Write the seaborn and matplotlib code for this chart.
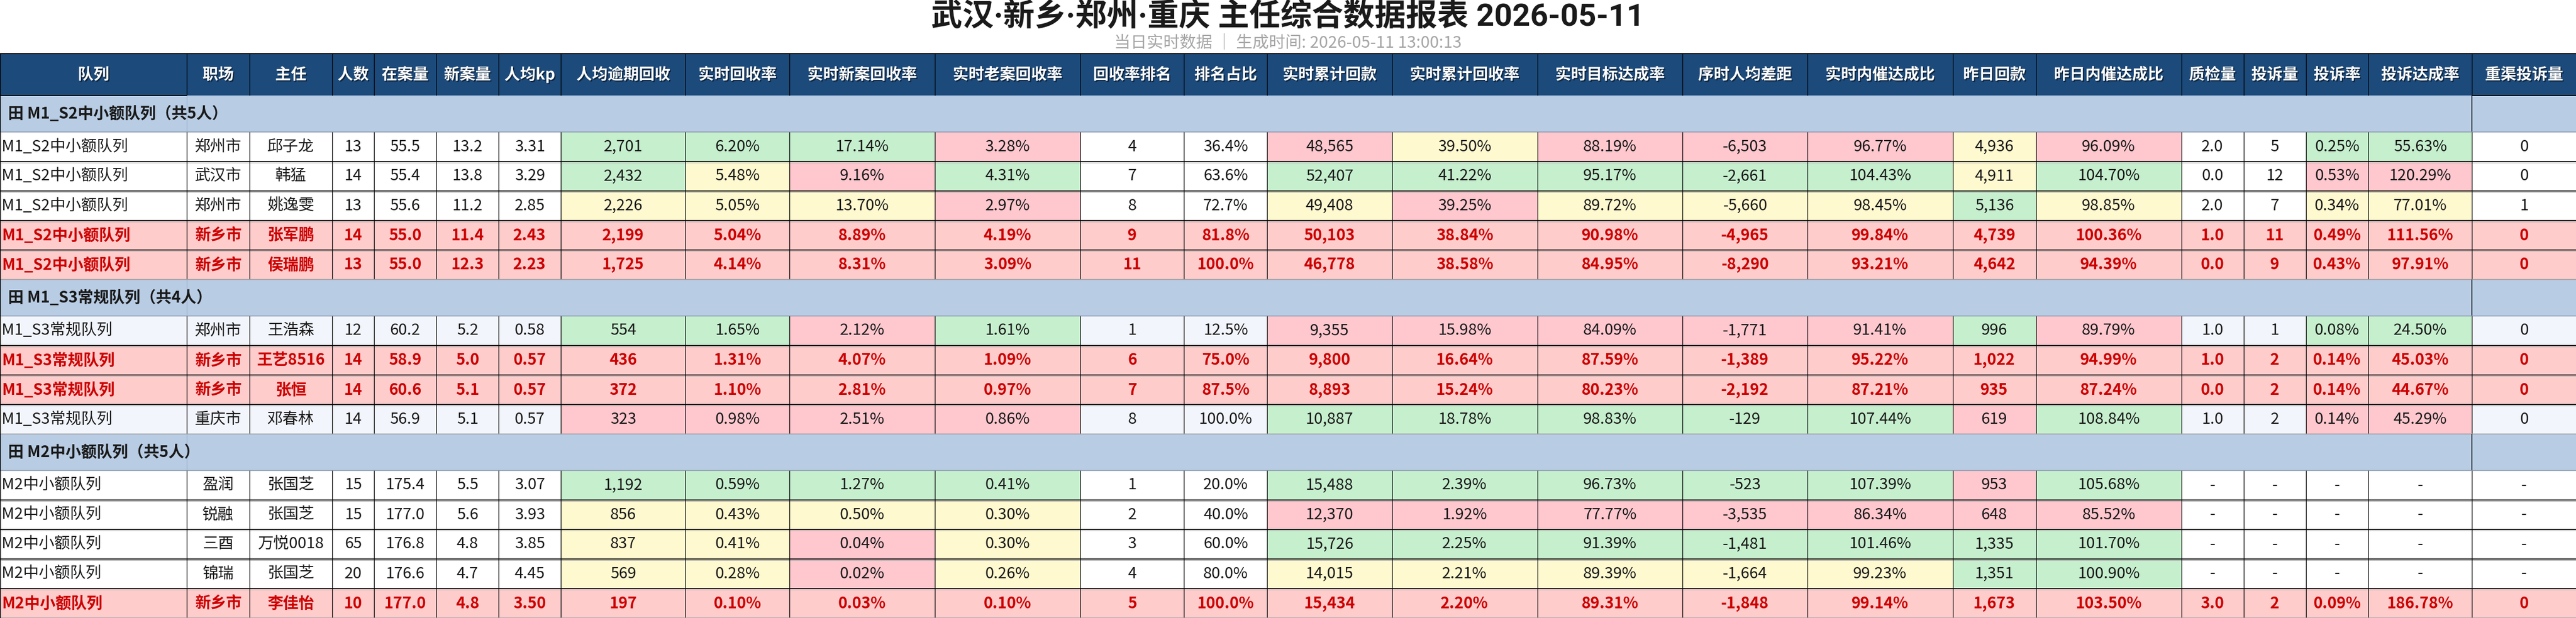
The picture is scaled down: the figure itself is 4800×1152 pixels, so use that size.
import numpy as np
import seaborn as sns
import matplotlib
matplotlib.use("Agg")
import matplotlib.pyplot as plt
from matplotlib.colors import ListedColormap
import matplotlib.patheffects as pe

# ---------------- data ----------------
TITLE = "武汉·新乡·郑州·重庆 主任综合数据报表 2026-05-11"
SUBTITLE = "当日实时数据 ｜ 生成时间: 2026-05-11 13:00:13"

columns = ["队列", "职场", "主任", "人数", "在案量", "新案量", "人均kp", "人均逾期回收",
           "实时回收率", "实时新案回收率", "实时老案回收率", "回收率排名", "排名占比",
           "实时累计回款", "实时累计回收率", "实时目标达成率", "序时人均差距",
           "实时内催达成比", "昨日回款", "昨日内催达成比", "质检量", "投诉量",
           "投诉率", "投诉达成率", "重渠投诉量"]

group_names = ["M1_S2中小额队列", "M1_S3常规队列", "M2中小额队列"]
group_sizes = [5, 4, 5]

site = ["郑州市", "武汉市", "郑州市", "新乡市", "新乡市",
        "郑州市", "新乡市", "新乡市", "重庆市",
        "盈润", "锐融", "三酉", "锦瑞", "新乡市"]
director = ["邱子龙", "韩猛", "姚逸雯", "张军鹏", "侯瑞鹏",
            "王浩森", "王艺8516", "张恒", "邓春林",
            "张国芝", "张国芝", "万悦0018", "张国芝", "李佳怡"]
headcount = [13, 14, 13, 14, 13, 12, 14, 14, 14, 15, 15, 65, 20, 10]
cases = [55.5, 55.4, 55.6, 55.0, 55.0, 60.2, 58.9, 60.6, 56.9, 175.4, 177.0, 176.8, 176.6, 177.0]
new_cases = [13.2, 13.8, 11.2, 11.4, 12.3, 5.2, 5.0, 5.1, 5.1, 5.5, 5.6, 4.8, 4.7, 4.8]
kp = [3.31, 3.29, 2.85, 2.43, 2.23, 0.58, 0.57, 0.57, 0.57, 3.07, 3.93, 3.85, 4.45, 3.50]
overdue_pc = [2701, 2432, 2226, 2199, 1725, 554, 436, 372, 323, 1192, 856, 837, 569, 197]
rate = [6.20, 5.48, 5.05, 5.04, 4.14, 1.65, 1.31, 1.10, 0.98, 0.59, 0.43, 0.41, 0.28, 0.10]
new_rate = [17.14, 9.16, 13.70, 8.89, 8.31, 2.12, 4.07, 2.81, 2.51, 1.27, 0.50, 0.04, 0.02, 0.03]
old_rate = [3.28, 4.31, 2.97, 4.19, 3.09, 1.61, 1.09, 0.97, 0.86, 0.41, 0.30, 0.30, 0.26, 0.10]
rank = [4, 7, 8, 9, 11, 1, 6, 7, 8, 1, 2, 3, 4, 5]
rank_share = [36.4, 63.6, 72.7, 81.8, 100.0, 12.5, 75.0, 87.5, 100.0, 20.0, 40.0, 60.0, 80.0, 100.0]
cum_paid = [48565, 52407, 49408, 50103, 46778, 9355, 9800, 8893, 10887, 15488, 12370, 15726, 14015, 15434]
cum_rate = [39.50, 41.22, 39.25, 38.84, 38.58, 15.98, 16.64, 15.24, 18.78, 2.39, 1.92, 2.25, 2.21, 2.20]
target_rate = [88.19, 95.17, 89.72, 90.98, 84.95, 84.09, 87.59, 80.23, 98.83, 96.73, 77.77, 91.39, 89.39, 89.31]
gap = [-6503, -2661, -5660, -4965, -8290, -1771, -1389, -2192, -129, -523, -3535, -1481, -1664, -1848]
inner_ratio = [96.77, 104.43, 98.45, 99.84, 93.21, 91.41, 95.22, 87.21, 107.44, 107.39, 86.34, 101.46, 99.23, 99.14]
yday_paid = [4936, 4911, 5136, 4739, 4642, 996, 1022, 935, 619, 953, 648, 1335, 1351, 1673]
yday_ratio = [96.09, 104.70, 98.85, 100.36, 94.39, 89.79, 94.99, 87.24, 108.84, 105.68, 85.52, 101.70, 100.90, 103.50]
qc = [2.0, 0.0, 2.0, 1.0, 0.0, 1.0, 1.0, 0.0, 1.0, None, None, None, None, 3.0]
complaints = [5, 12, 7, 11, 9, 1, 2, 2, 2, None, None, None, None, 2]
complaint_rate = [0.25, 0.53, 0.34, 0.49, 0.43, 0.08, 0.14, 0.14, 0.14, None, None, None, None, 0.09]
complaint_attain = [55.63, 120.29, 77.01, 111.56, 97.91, 24.50, 45.03, 44.67, 45.29, None, None, None, None, 186.78]
repeat_complaints = [0, 0, 1, 0, 0, 0, 0, 0, 0, None, None, None, None, 0]
highlight = [0, 0, 0, 1, 1, 0, 1, 1, 0, 0, 0, 0, 0, 1]

# conditional-format flags (G good / Y mid / P poor) for the flagged columns
flag_cols = [7, 8, 9, 10, 13, 14, 15, 16, 17, 18, 19, 22, 23]
cell_flags = ["GGGPPYPPPYPGG", "GYPGGGGGGYGPP", "YYYPYPYYYGYYY", "PPPPPPPPPPPPP", "PPPPPPPPPPPPP",
              "GGPGPPPPPGPGG", "PPPPPPPPPPPPP", "PPPPPPPPPPPPP", "PPPPGGGGGPGPP",
              "GGGGGGGGGPG--", "YYYYPPPPPPP--", "YYPYGGGGGGG--", "YYPYYYYYYGG--", "PPPPPPPPPPPPP"]

# ---------------- style / layout ----------------
sns.set_theme(style="white")
plt.rcParams['font.family'] = ['Noto Sans CJK SC', 'DejaVu Sans']

W, H = 4800, 1152
col_units = [9, 3, 4, 2, 3, 3, 3, 6, 5, 7, 7, 5, 4, 6, 7, 7, 6, 7, 4, 7, 3, 3, 3, 5, 5]
xedges = np.concatenate([[0], np.cumsum(col_units)]) * (W / sum(col_units))
TOP, HEADER_H, GROUP_H, ROW_H = 100, 78, 68, 55

C_HEADER = "#1C4A7B"
C_GROUP = "#B8CCE4"
C_WHITE = "#FFFFFF"
C_TINT = "#F2F5FC"
C_GREEN = "#C6EFCE"
C_YELLOW = "#FFF9CF"
C_PINK = "#FFC7CE"
C_RED_ROW = "#FFCCCC"
C_RED_TXT = "#CC0000"
C_TXT = "#1A1A1A"
palette = [C_HEADER, C_GROUP, C_WHITE, C_TINT, C_GREEN, C_YELLOW, C_PINK, C_RED_ROW]
code = {c: i for i, c in enumerate(palette)}
flag_color = {"G": C_GREEN, "Y": C_YELLOW, "P": C_PINK}

def fmt_int(v): return "-" if v is None else f"{int(v)}"
def fmt_f1(v): return "-" if v is None else f"{v:.1f}"
def fmt_f2(v): return "-" if v is None else f"{v:.2f}"
def fmt_comma(v): return "-" if v is None else f"{int(v):,}"
def fmt_p1(v): return "-" if v is None else f"{v:.1f}%"
def fmt_p2(v): return "-" if v is None else f"{v:.2f}%"

n = len(site)
queue = [g for g, s in zip(group_names, group_sizes) for _ in range(s)]
group_of = [gi for gi, s in enumerate(group_sizes) for _ in range(s)]
table = [
    queue, site, director,
    [fmt_int(v) for v in headcount], [fmt_f1(v) for v in cases], [fmt_f1(v) for v in new_cases],
    [fmt_f2(v) for v in kp], [fmt_comma(v) for v in overdue_pc], [fmt_p2(v) for v in rate],
    [fmt_p2(v) for v in new_rate], [fmt_p2(v) for v in old_rate], [fmt_int(v) for v in rank],
    [fmt_p1(v) for v in rank_share], [fmt_comma(v) for v in cum_paid], [fmt_p2(v) for v in cum_rate],
    [fmt_p2(v) for v in target_rate], [fmt_comma(v) for v in gap], [fmt_p2(v) for v in inner_ratio],
    [fmt_comma(v) for v in yday_paid], [fmt_p2(v) for v in yday_ratio], [fmt_f1(v) for v in qc],
    [fmt_int(v) for v in complaints], [fmt_p2(v) for v in complaint_rate],
    [fmt_p2(v) for v in complaint_attain], [fmt_int(v) for v in repeat_complaints],
]

# build row structure
rows = [("header", None)]
k = 0
for gi, s in enumerate(group_sizes):
    rows.append(("group", gi))
    for _ in range(s):
        rows.append(("data", k))
        k += 1
heights = [HEADER_H if t == "header" else GROUP_H if t == "group" else ROW_H for t, _ in rows]
yedges = TOP + np.concatenate([[0], np.cumsum(heights)])

ncol = len(columns)
codes = np.zeros((len(rows), ncol), dtype=int)
for r, (t, idx) in enumerate(rows):
    if t == "header":
        codes[r, :] = code[C_HEADER]
    elif t == "group":
        codes[r, :] = code[C_GROUP]
    else:
        if highlight[idx]:
            codes[r, :] = code[C_RED_ROW]
        else:
            base = C_TINT if group_of[idx] % 2 == 1 else C_WHITE
            codes[r, :] = code[base]
            for j, f in zip(flag_cols, cell_flags[idx]):
                if f in flag_color:
                    codes[r, j] = code[flag_color[f]]

fig = plt.figure(figsize=(W / 100, H / 100), dpi=100)
ax = fig.add_axes([0, 0, 1, 1])
ax.pcolormesh(xedges, yedges, codes, cmap=ListedColormap(palette), vmin=-0.5,
              vmax=len(palette) - 0.5, shading="flat")
ax.set_xlim(0, W)
ax.set_ylim(H, 0)
ax.axis("off")

FS = 21
px = 0.72  # 1 px in points
shadow = [pe.withSimplePatchShadow(offset=(1.5, -1.5), shadow_rgbFace="#000000", alpha=0.5)]

# title
ax.text(W / 2, 32, TITLE, ha="center", va="center", fontsize=42, fontweight="bold",
        color="#1A1A1A", family=["Roboto", "Noto Sans CJK SC", "DejaVu Sans"])
ax.text(W / 2, 80, SUBTITLE, ha="center", va="center", fontsize=22, color="#A6A6A6")

for r, (t, idx) in enumerate(rows):
    y0, y1 = yedges[r], yedges[r + 1]
    yc = (y0 + y1) / 2
    if t == "header":
        for j, name in enumerate(columns):
            ax.text((xedges[j] + xedges[j + 1]) / 2, yc, name, ha="center", va="center",
                    fontsize=FS, fontweight="bold", color="white", path_effects=shadow)
        ax.vlines(xedges[1:-1], y0, y1, colors="#000000", lw=1.3 * px)
    elif t == "group":
        label = f"田 {group_names[idx]}（共{group_sizes[idx]}人）"
        ax.text(15, yc, label, ha="left", va="center", fontsize=FS, fontweight="bold", color=C_TXT)
        ax.vlines([xedges[1]], y0, y1, colors="#9FB3CE", lw=1.2 * px)
        ax.vlines([xedges[-2]], y0, y1, colors="#000000", lw=1.5 * px)
        ax.hlines(y1, 0, W, colors="#8C9BB0", lw=1.6 * px)
    else:
        red = bool(highlight[idx])
        color = C_RED_TXT if red else C_TXT
        weight = "bold" if red else "normal"
        for j in range(ncol):
            txt = table[j][idx]
            if j == 0:
                ax.text(xedges[0] + 3, yc, txt, ha="left", va="center", fontsize=FS,
                        fontweight=weight, color=color)
            else:
                ax.text((xedges[j] + xedges[j + 1]) / 2, yc, txt, ha="center", va="center",
                        fontsize=FS, fontweight=weight, color=color)
        ax.vlines(xedges[1:-1], y0, y1, colors="#000000", lw=1.3 * px)
        nxt = rows[r + 1][0] if r + 1 < len(rows) else None
        if nxt == "data":
            ax.hlines(y1 + 1.5, 0, W, colors="#B0B0B0", lw=1.2 * px)
            ax.hlines(y1, 0, W, colors="#000000", lw=1.8 * px)
        else:
            ax.hlines(y1, 0, W, colors="#A0A0A0", lw=1.6 * px)

# header borders
ax.hlines(TOP, 0, W, colors="#000000", lw=2.0 * px)
ax.hlines(TOP + HEADER_H, 0, xedges[1], colors="#000000", lw=2.0 * px)
ax.hlines(TOP + HEADER_H, xedges[-2], W, colors="#000000", lw=2.0 * px)
ax.hlines(TOP - 2, 0, W, colors="#D0D0D0", lw=1.0 * px)
ax.vlines([1], TOP, H, colors="#000000", lw=1.5 * px)

fig.savefig("out.png", dpi=100)
